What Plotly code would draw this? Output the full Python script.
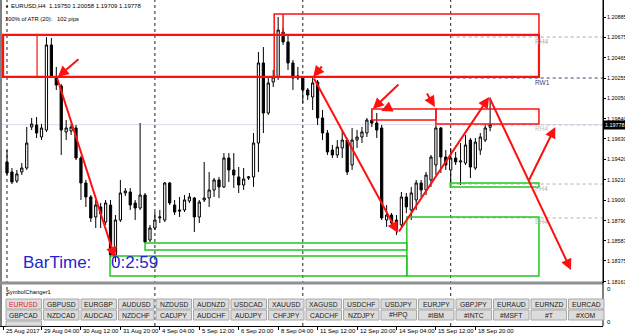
import plotly.graph_objects as go

# ---------------- data ----------------
bar_index = list(range(99))
open_ = [1.19393, 1.19290, 1.19198, 1.19290, 1.19331, 1.19753, 1.19774, 1.19650, 1.19722, 1.20597,
         1.20268, 1.20175, 1.19702, 1.19712, 1.19743, 1.19434, 1.19177, 1.19033, 1.18827, 1.18930,
         1.18775, 1.18950, 1.18436, 1.18796, 1.19074, 1.19084, 1.18971, 1.18919, 1.19053, 1.18590,
         1.18714, 1.18817, 1.18796, 1.19177, 1.18950, 1.18899, 1.18899, 1.18992, 1.19022, 1.18827,
         1.19002, 1.19022, 1.19105, 1.19208, 1.19136, 1.19434, 1.19311, 1.19239, 1.19156, 1.19228,
         1.19239, 1.19588, 1.20412, 1.19897, 1.20216, 1.20268, 1.20731, 1.20628, 1.20412, 1.20257,
         1.20257, 1.20134, 1.20062, 1.20216, 1.19846, 1.19691, 1.19516, 1.19465, 1.19537, 1.19619,
         1.19362, 1.19619, 1.19650, 1.19691, 1.19825, 1.19794, 1.19743, 1.18796, 1.18847, 1.18796,
         1.18745, 1.19033, 1.18899, 1.19002, 1.19177, 1.19105, 1.19208, 1.19362, 1.19743, 1.19444,
         1.19311, 1.19434, 1.19393, 1.19382, 1.19619, 1.19331, 1.19516, 1.19619, 1.19750]
high_ = [1.19516, 1.19331, 1.19311, 1.19382, 1.19753, 1.19846, 1.19856, 1.19784, 1.20679, 1.20669,
         1.20371, 1.20196, 1.19825, 1.19784, 1.19774, 1.19455, 1.19208, 1.19053, 1.19002, 1.18971,
         1.19002, 1.19002, 1.18847, 1.19208, 1.19125, 1.19125, 1.19002, 1.19794, 1.19074, 1.18745,
         1.18878, 1.18899, 1.19187, 1.19187, 1.19002, 1.19033, 1.19053, 1.19074, 1.19033, 1.19002,
         1.19393, 1.19290, 1.19228, 1.19239, 1.19485, 1.19485, 1.19485, 1.19341, 1.19331, 1.19249,
         1.19691, 1.20525, 1.20576, 1.20268, 1.20340, 1.20885, 1.20772, 1.20700, 1.20443, 1.20371,
         1.20278, 1.20154, 1.20257, 1.20237, 1.19928, 1.19722, 1.19568, 1.19619, 1.19722, 1.19640,
         1.19743, 1.19722, 1.19753, 1.19846, 1.19928, 1.19897, 1.19774, 1.18950, 1.18868, 1.18847,
         1.19084, 1.19074, 1.19136, 1.19208, 1.19208, 1.19290, 1.19465, 1.19774, 1.19753, 1.19516,
         1.19537, 1.19496, 1.19588, 1.19671, 1.19640, 1.19640, 1.19691, 1.19774, 1.20058]
low_ = [1.19259, 1.19166, 1.19177, 1.19259, 1.19311, 1.19722, 1.19640, 1.19619, 1.19702, 1.20257,
        1.20134, 1.19465, 1.19619, 1.19671, 1.19413, 1.19002, 1.18930, 1.18775, 1.18714, 1.18714,
        1.18745, 1.18405, 1.18364, 1.18775, 1.19043, 1.18899, 1.18796, 1.18899, 1.18559, 1.18570,
        1.18693, 1.18765, 1.18775, 1.18950, 1.18847, 1.18827, 1.18878, 1.18971, 1.18672, 1.18765,
        1.18981, 1.18930, 1.19033, 1.19022, 1.19125, 1.19187, 1.19125, 1.19074, 1.19105, 1.19208,
        1.19136, 1.19290, 1.19691, 1.19877, 1.20165, 1.20237, 1.20597, 1.20340, 1.20134, 1.20237,
        1.20000, 1.20031, 1.19928, 1.19774, 1.19619, 1.19465, 1.19434, 1.19434, 1.19434, 1.19259,
        1.19311, 1.19537, 1.19588, 1.19650, 1.19753, 1.19640, 1.18796, 1.18724, 1.18724, 1.18642,
        1.18724, 1.18868, 1.18796, 1.18899, 1.19033, 1.19053, 1.19136, 1.19259, 1.19280, 1.19311,
        1.19136, 1.19362, 1.19156, 1.19362, 1.19228, 1.19311, 1.19465, 1.19599, 1.19709]
close_ = [1.19280, 1.19187, 1.19270, 1.19331, 1.19588, 1.19784, 1.19691, 1.19743, 1.20597, 1.20268,
          1.20185, 1.19722, 1.19743, 1.19753, 1.19434, 1.19177, 1.19033, 1.18817, 1.18950, 1.18858,
          1.18971, 1.18436, 1.18796, 1.19074, 1.19094, 1.18950, 1.18919, 1.19053, 1.18570, 1.18714,
          1.18796, 1.18827, 1.19177, 1.18971, 1.18878, 1.18889, 1.19002, 1.19033, 1.18827, 1.18981,
          1.19022, 1.19105, 1.19208, 1.19136, 1.19434, 1.19311, 1.19259, 1.19156, 1.19218, 1.19239,
          1.19588, 1.20412, 1.19897, 1.20206, 1.20268, 1.20751, 1.20628, 1.20412, 1.20257, 1.20278,
          1.20134, 1.20082, 1.20206, 1.19846, 1.19691, 1.19496, 1.19465, 1.19547, 1.19619, 1.19290,
          1.19619, 1.19650, 1.19702, 1.19825, 1.19794, 1.19722, 1.18817, 1.18847, 1.18765, 1.18693,
          1.19033, 1.18930, 1.19074, 1.19177, 1.19105, 1.19259, 1.19444, 1.19743, 1.19444, 1.19362,
          1.19434, 1.19393, 1.19403, 1.19568, 1.19341, 1.19598, 1.19650, 1.19743, 1.19778]

price_ticks = [1.20885, 1.20675, 1.20465, 1.20255, 1.20050, 1.19840, 1.19630,
               1.19420, 1.19210, 1.19000, 1.18790, 1.18583, 1.18375, 1.18161]
price_tick_labels = ["1.20885", "1.20675", "1.20465", "1.20255", "1.20050", "1.19840", "1.19630",
                     "1.19420", "1.19210", "1.19000", "1.18790", "1.18583", "1.18375", "1.18161"]

time_tick_bars = [-0.8, 7, 15, 23, 31, 39, 47, 55, 63, 71, 79, 87, 95]
time_tick_labels = ["25 Aug 2017", "29 Aug 04:00", "30 Aug 12:00", "31 Aug 20:00", "4 Sep 04:00",
                    "5 Sep 12:00", "6 Sep 20:00", "8 Sep 04:00", "11 Sep 12:00", "12 Sep 20:00",
                    "14 Sep 04:00", "15 Sep 12:00", "18 Sep 20:00"]
week_separators = [0, 30, 60, 90]

symbols_row1 = ["EURUSD", "GBPUSD", "EURGBP", "AUDUSD", "NZDUSD", "AUDNZD", "USDCAD", "XAUUSD",
                "XAGUSD", "USDCHF", "USDJPY", "EURJPY", "GBPJPY", "EURAUD", "EURNZD", "EURCAD"]
symbols_row2 = ["GBPCAD", "NZDCAD", "AUDCAD", "NZDCHF", "CADJPY", "AUDCHF", "AUDJPY", "CHFJPY",
                "CADCHF", "NZDJPY", "#HPQ", "#IBM", "#INTC", "#MSFT", "#T", "#XOM"]

# drawn objects (bar index, price)
red_zones = [(-0.8, 107.9, 1.20700, 1.20268, 2.2),
             (-0.8, 6.1, 1.20700, 1.20268, 1.2),
             (54.2, 107.9, 1.20916, 1.20268, 1.5),
             (74.0, 87.0, 1.19938, 1.19825, 1.5),
             (87.0, 107.9, 1.19938, 1.19784, 1.5)]
red_lines = [(56.0, 1.20916, 56.0, 1.20700)]
green_zones = [(89.9, 107.9, 1.19177, 1.19136),
               (28.0, 81.1, 1.18559, 1.18487),
               (20.9, 81.1, 1.18426, 1.18220),
               (81.1, 107.9, 1.18827, 1.18220)]
# (tail bar, tail price, head bar, head price)
arrows = [(14.8, 1.20463, 10.3, 1.20268),
          (10.1, 1.20268, 21.9, 1.18405),
          (64.1, 1.20391, 62.1, 1.20268),
          (62.1, 1.20268, 79.3, 1.18662),
          (79.3, 1.18662, 97.8, 1.20062),
          (97.8, 1.20062, 114.4, 1.18281),
          (105.7, 1.19187, 111.2, 1.19753),
          (79.7, 1.20206, 74.2, 1.19938),
          (78.1, 1.19969, 75.9, 1.19918),
          (85.0, 1.20113, 86.8, 1.19959)]
pivots = [(1.20679, "RH4", "#a8a8a8"),
          (1.20257, "RW1", "#404070"),
          (1.19774, "RH4", "#c0c0c0"),
          (1.19166, "PH4", "#b0b0b0"),
          (1.18817, "SH4", "#b0b0b0")]

# ---------------- layout geometry ----------------
FIG_W, FIG_H = 625, 336
PLOT_R, PLOT_B, MAIN_B = 603, 326, 283
BAR0_PX, BAR_PX = 7.0, 4.93
Y_TOP, Y_BOT = 1.210599, 1.181476  # prices at main-pane top / bottom edge


def pxx(x):
    return x / PLOT_R


def pxy(y):
    return 1 - y / PLOT_B


x_range = [(0 - BAR0_PX) / BAR_PX, (PLOT_R - BAR0_PX) / BAR_PX]

fig = go.Figure()
fig.add_trace(go.Candlestick(
    x=bar_index, open=open_, high=high_, low=low_, close=close_,
    increasing=dict(line=dict(color="black", width=1), fillcolor="white"),
    decreasing=dict(line=dict(color="black", width=1), fillcolor="black"),
    whiskerwidth=0, hoverinfo="skip", showlegend=False))

shapes = []
annotations = []
RED = "#ff1010"
GREEN = "#22c822"

# bid line
shapes.append(dict(type="line", xref="paper", yref="y", x0=0, x1=1, y0=close_[-1], y1=close_[-1],
                   line=dict(color="#dcdcec", width=1), layer="below"))
# pivots
for p, lab, col in pivots:
    shapes.append(dict(type="line", xref="x", yref="y", x0=90, x1=x_range[1], y0=p, y1=p,
                       line=dict(color=col, width=1, dash="dot"), layer="below"))
    annotations.append(dict(xref="paper", yref="y", x=pxx(533), y=p, yshift=-4, text=lab,
                            showarrow=False, xanchor="left", yanchor="middle",
                            font=dict(size=6.5, color=col)))
# week separators
for s in week_separators:
    shapes.append(dict(type="line", xref="x", yref="paper", x0=s, x1=s, y0=0, y1=1,
                       line=dict(color="#202020", width=1, dash="dot"), layer="below"))
# zones
for x0, x1, y0, y1, w in red_zones:
    shapes.append(dict(type="rect", xref="x", yref="y", x0=x0, x1=x1, y0=y0, y1=y1,
                       line=dict(color=RED, width=w)))
for x0, y0, x1, y1 in red_lines:
    shapes.append(dict(type="line", xref="x", yref="y", x0=x0, x1=x1, y0=y0, y1=y1,
                       line=dict(color=RED, width=1.5)))
for x0, x1, y0, y1 in green_zones:
    shapes.append(dict(type="rect", xref="x", yref="y", x0=x0, x1=x1, y0=y0, y1=y1,
                       line=dict(color=GREEN, width=1.5)))
for tx, tp, hx, hp in arrows:
    annotations.append(dict(x=hx, y=hp, ax=tx, ay=tp, xref="x", yref="y", axref="x", ayref="y",
                            text="", showarrow=True, arrowhead=2, arrowsize=1.1, arrowwidth=2,
                            arrowcolor=RED, standoff=0, startstandoff=0))

# frame pieces
shapes.append(dict(type="line", xref="paper", yref="paper", x0=pxx(1), x1=pxx(1), y0=0, y1=1,
                   line=dict(color="#808080", width=2)))
shapes.append(dict(type="line", xref="paper", yref="paper", x0=0, x1=1, y0=pxy(MAIN_B), y1=pxy(MAIN_B),
                   line=dict(color="#909090", width=3)))
shapes.append(dict(type="line", xref="paper", yref="paper", x0=1, x1=1, y0=0, y1=1,
                   line=dict(color="black", width=1)))

# price labels on the right scale
for v, lab in zip(price_ticks, price_tick_labels):
    annotations.append(dict(xref="paper", yref="y", x=pxx(605), y=v, text=lab, showarrow=False,
                            xanchor="left", yanchor="middle", font=dict(size=5.4, color="black")))

# header texts
annotations.append(dict(xref="paper", yref="paper", x=pxx(3), y=pxy(6), text="▼", showarrow=False,
                        xanchor="left", yanchor="middle", font=dict(size=4, color="black")))
annotations.append(dict(xref="paper", yref="paper", x=pxx(9), y=pxy(6),
                        text="EURUSD,H4  1.19750 1.20058 1.19709 1.19778", showarrow=False,
                        xanchor="left", yanchor="middle", font=dict(size=6, color="black")))
annotations.append(dict(xref="paper", yref="paper", x=pxx(3), y=pxy(19),
                        text="100% of ATR (20):   102 pips", showarrow=False,
                        xanchor="left", yanchor="middle", font=dict(size=5.8, color="black")))
annotations.append(dict(xref="paper", yref="paper", x=pxx(21), y=pxy(262), text="BarTime:",
                        showarrow=False, xanchor="left", yanchor="middle",
                        font=dict(size=17, color="#2424d0")))
annotations.append(dict(xref="paper", yref="paper", x=pxx(109), y=pxy(262), text="0:2:59",
                        showarrow=False, xanchor="left", yanchor="middle",
                        font=dict(size=17, color="#2424d0")))

# current price tag
annotations.append(dict(xref="paper", yref="y", x=1, y=close_[-1], text="1.19778", showarrow=False,
                        xanchor="left", yanchor="middle", bgcolor="black", borderpad=1,
                        font=dict(size=5.4, color="white")))

# sub-window (symbol changer)
annotations.append(dict(xref="paper", yref="paper", x=pxx(4), y=pxy(292), text="SymbolChanger1",
                        showarrow=False, xanchor="left", yanchor="middle",
                        font=dict(size=5.8, color="black")))
for v_y in (289, 322):
    annotations.append(dict(xref="paper", yref="paper", x=pxx(605), y=pxy(v_y), text="0",
                            showarrow=False, xanchor="left", yanchor="middle",
                            font=dict(size=6, color="black")))
BTN_L, BTN_STEP, BTN_W = 6.0, 37.5, 35.5
for row, (labels, top, bot) in enumerate([(symbols_row1, 299, 309), (symbols_row2, 310, 320)]):
    for k, lab in enumerate(labels):
        x0 = BTN_L + k * BTN_STEP
        shapes.append(dict(type="rect", xref="paper", yref="paper", x0=pxx(x0), x1=pxx(x0 + BTN_W),
                           y0=pxy(bot), y1=pxy(top), fillcolor="#dcdcdc",
                           line=dict(color="#a8a8a8", width=1)))
        col = "#e02020" if (row == 0 and k == 0) else "#202020"
        annotations.append(dict(xref="paper", yref="paper", x=pxx(x0 + BTN_W / 2),
                                y=pxy((top + bot) / 2), text=lab, showarrow=False,
                                xanchor="center", yanchor="middle", font=dict(size=6.8, color=col)))
shapes.append(dict(type="rect", xref="paper", yref="paper", x0=pxx(BTN_L), x1=pxx(BTN_L + BTN_W),
                   y0=pxy(PLOT_B), y1=pxy(321), fillcolor="#dcdcdc",
                   line=dict(color="#a8a8a8", width=1)))

# time labels
for b, lab in zip(time_tick_bars, time_tick_labels):
    annotations.append(dict(xref="x", yref="paper", x=b, y=pxy(331), xshift=0.5, text=lab,
                            showarrow=False, xanchor="left", yanchor="middle",
                            font=dict(size=6, color="black")))

fig.update_layout(
    width=FIG_W, height=FIG_H,
    margin=dict(l=0, r=FIG_W - PLOT_R, t=0, b=FIG_H - PLOT_B),
    paper_bgcolor="white", plot_bgcolor="white",
    font=dict(family="Liberation Sans, Arial, sans-serif", size=7, color="black"),
    showlegend=False, hovermode=False, boxgap=0.35,
    shapes=shapes, annotations=annotations,
    xaxis=dict(range=x_range, rangeslider=dict(visible=False), showgrid=False, zeroline=False,
               tickvals=time_tick_bars, ticks="outside", ticklen=3, tickcolor="black",
               showticklabels=False, anchor="free", position=0, showline=True,
               linecolor="black", linewidth=1),
    yaxis=dict(domain=[pxy(MAIN_B), 1], range=[Y_BOT, Y_TOP], side="right", showgrid=False,
               zeroline=False, tickvals=price_ticks, ticks="outside", ticklen=2,
               tickcolor="black", showline=True, linecolor="black", showticklabels=False,
               automargin=False),
)

fig.write_html("out.html")
